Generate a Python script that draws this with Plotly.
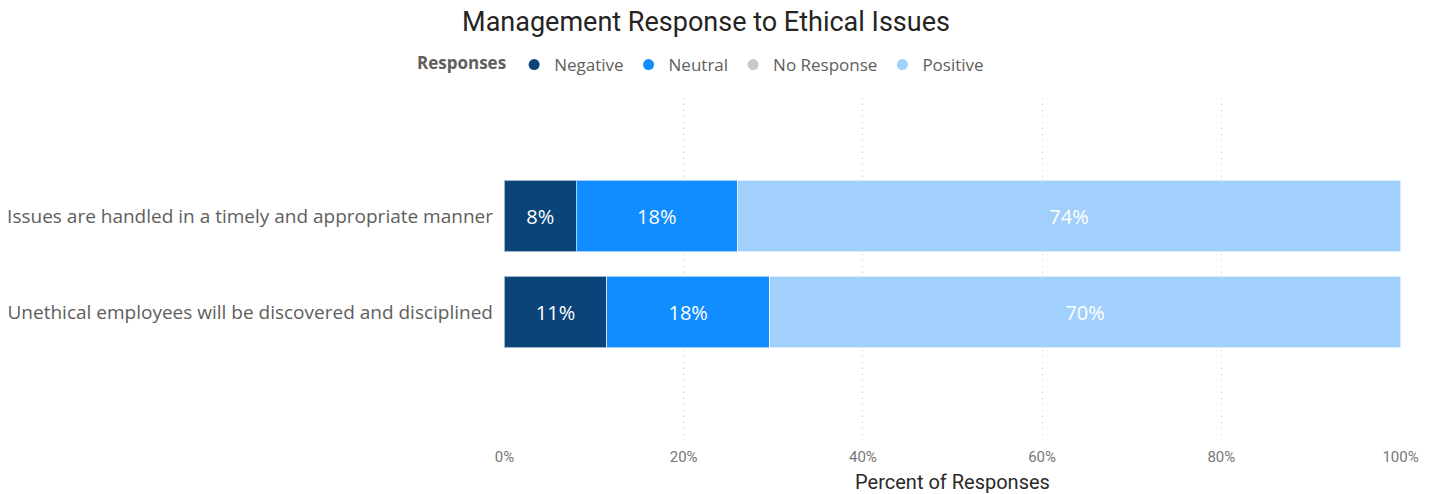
import plotly.graph_objects as go

# Survey statements (top to bottom) and share of responses per category
statements = [
    "Issues are handled in a timely and appropriate manner",
    "Unethical employees will be discovered and disciplined",
]
negative = [0.08, 0.114]
neutral = [0.18, 0.182]
no_response = [0.0, 0.0]
positive = [0.74, 0.704]

series = [
    ("Negative", negative, "#0B4478"),
    ("Neutral", neutral, "#128DFF"),
    ("No Response", no_response, "#C8C8C8"),
    ("Positive", positive, "#A2D0FC"),
]

x_ticks = [0, 0.2, 0.4, 0.6, 0.8, 1.0]
x_tick_labels = ["0%", "20%", "40%", "60%", "80%", "100%"]

fig = go.Figure()

for name, values, color in series:
    fig.add_trace(go.Bar(
        y=statements,
        x=values,
        name=name,
        orientation="h",
        width=0.74,
        marker=dict(color=color, line=dict(color="rgba(255,255,255,0.6)", width=1)),
        texttemplate=["%{x:.0%}" if v > 0 else "" for v in values],
        textposition="inside",
        insidetextanchor="middle",
        textfont=dict(color="white", size=20, family="Open Sans"),
        showlegend=False,
        hoverinfo="skip",
    ))

# Round legend markers
for name, values, color in series:
    fig.add_trace(go.Scatter(
        x=[None], y=[None], mode="markers", name=name,
        marker=dict(symbol="circle", size=11, color=color),
        showlegend=True,
    ))

fig.update_layout(
    barmode="stack",
    width=1438,
    height=494,
    paper_bgcolor="white",
    plot_bgcolor="white",
    margin=dict(l=504, r=37, t=98, b=54),
    title=dict(
        text="Management Response to Ethical Issues",
        x=706 / 1438, xanchor="center", xref="container",
        y=1 - 22 / 494, yanchor="middle", yref="container",
        font=dict(family="Roboto", size=27, color="#252423"),
    ),
    legend=dict(
        orientation="h",
        traceorder="normal",
        title=dict(text="<b>Responses</b>", font=dict(family="Open Sans", size=17, color="#605E5C")),
        font=dict(family="Open Sans", size=17, color="#605E5C"),
        x=702 / 1438, xanchor="center", xref="container",
        y=1 - 65 / 494, yanchor="middle", yref="container",
        itemwidth=30,
        tracegroupgap=0,
    ),
    xaxis=dict(
        automargin=False,
        range=[-0.0005, 1.0005],
        tickvals=x_ticks,
        ticktext=x_tick_labels,
        tickfont=dict(family="Roboto", size=15, color="#777777"),
        ticklabelstandoff=6,
        showgrid=True,
        gridcolor="#C8C8C8",
        griddash="1px,5px",
        gridwidth=1,
        zeroline=False,
        showline=False,
        ticks="",
        title=dict(text="Percent of Responses", standoff=12,
                   font=dict(family="Roboto", size=20, color="#2B2A29")),
    ),
    yaxis=dict(
        automargin=False,
        categoryorder="array",
        categoryarray=statements,
        range=[2.333, -1.229],
        tickfont=dict(family="Open Sans", size=19, color="#605E5C"),
        showgrid=False,
        zeroline=False,
        ticks="",
        ticklabelstandoff=10,
    ),
)

fig.write_html("out.html")
